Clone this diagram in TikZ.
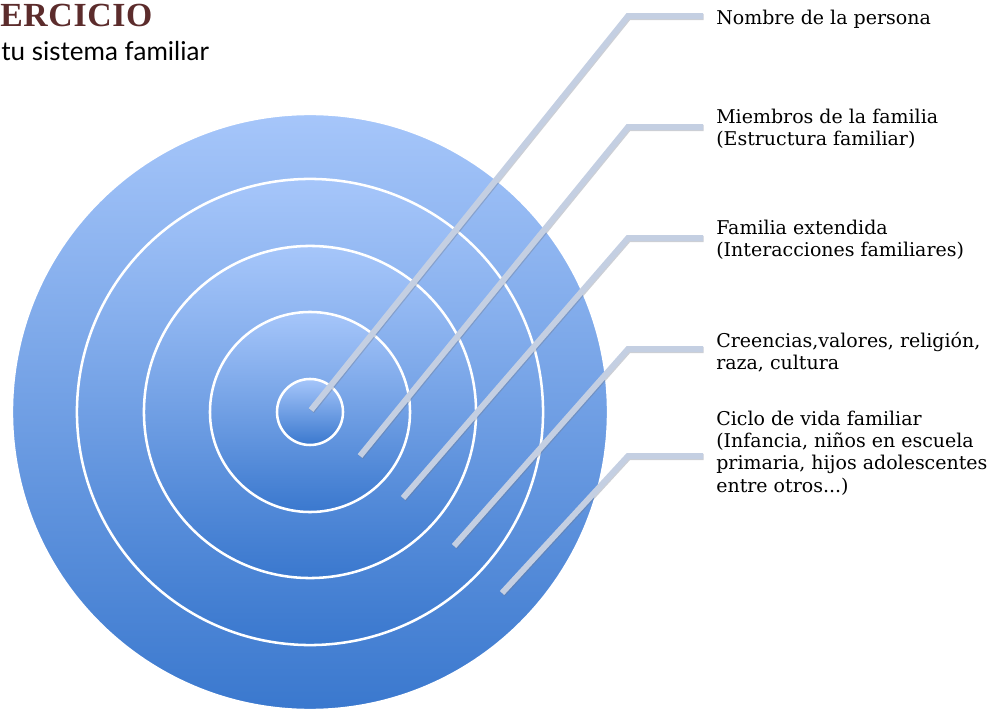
\documentclass[tikz,border=0pt]{standalone}
\usepackage{fontspec}
\usetikzlibrary{calc}
\setmainfont{DejaVu Serif}
\newfontfamily\titlefont[LetterSpace=2]{Liberation Serif}
\newfontfamily\subfont{Lato}
\definecolor{ringtop}{RGB}{166,198,250}
\definecolor{ringbot}{RGB}{58,120,206}
\definecolor{leader}{RGB}{196,207,226}
\definecolor{leadershade}{RGB}{110,118,135}
\definecolor{titlebrown}{RGB}{92,44,44}
\tikzset{
  ring/.style={circle, draw=white, line width=1.8pt, top color=ringtop, bottom color=ringbot, inner sep=0pt},
  leaderline/.style={draw=leader, line width=4.2pt},
  leadershadow/.style={draw=leadershade, line width=4.2pt, opacity=.35},
  tag/.style={anchor=west, inner sep=0pt, align=left, font=\fontsize{13.5}{15.8}\selectfont},
}
\begin{document}
\begin{tikzpicture}[x=0.025cm, y=-0.025cm]
\useasboundingbox (0,0) rectangle (994,714);
% title
\node[anchor=base west, inner sep=0pt, text=titlebrown, font=\titlefont\bfseries\fontsize{24}{24}\selectfont] (title) at (0,27) {ERCICIO};
\node[anchor=base west, inner sep=0pt, font=\subfont\fontsize{18.5}{18.5}\selectfont] (subtitle) at (1,61) {tu sistema familiar};
% target
\node[ring, minimum size=14.9cm] (ring5) at (310,412) {};
\node[ring, minimum size=11.65cm] (ring4) at (310,412) {};
\node[ring, minimum size=8.3cm] (ring3) at (310,412) {};
\node[ring, minimum size=5cm] (ring2) at (310,412) {};
\node[ring, minimum size=1.65cm] (ring1) at (310,412) {};
% labels
\node[tag] (persona) at (716,19) {Nombre de la persona};
\node[tag] (miembros) at (716,129) {Miembros de la familia\\(Estructura familiar)};
\node[tag] (extendida) at (716,240) {Familia extendida\\(Interacciones familiares)};
\node[tag] (creencias) at (716,352) {Creencias,valores, religión,\\raza, cultura};
\node[tag] (ciclo) at (716,453) {Ciclo de vida familiar\\(Infancia, niños en escuela\\primaria, hijos adolescentes\\entre otros...)};
% leader lines
\coordinate (p1) at (311,410);
\coordinate (p2) at (360,456);
\coordinate (p3) at (403,498);
\coordinate (p4) at (454,546);
\coordinate (p5) at (502,593);
\coordinate (k1) at (628,16);
\coordinate (k2) at (628,127);
\coordinate (k3) at (628,238);
\coordinate (k4) at (628,349);
\coordinate (k5) at (628,456);
\foreach \p/\k/\t in {p1/k1/persona,p2/k2/miembros,p3/k3/extendida,p4/k4/creencias,p5/k5/ciclo}{
  \path[leadershadow, transform canvas={xshift=.5pt, yshift=-.8pt}] (\p) -- (\k) -- ($(\k -| \t.west)+(-13,0)$);
  \path[leaderline] (\p) -- (\k) -- ($(\k -| \t.west)+(-13,0)$);
}
\end{tikzpicture}
\end{document}
